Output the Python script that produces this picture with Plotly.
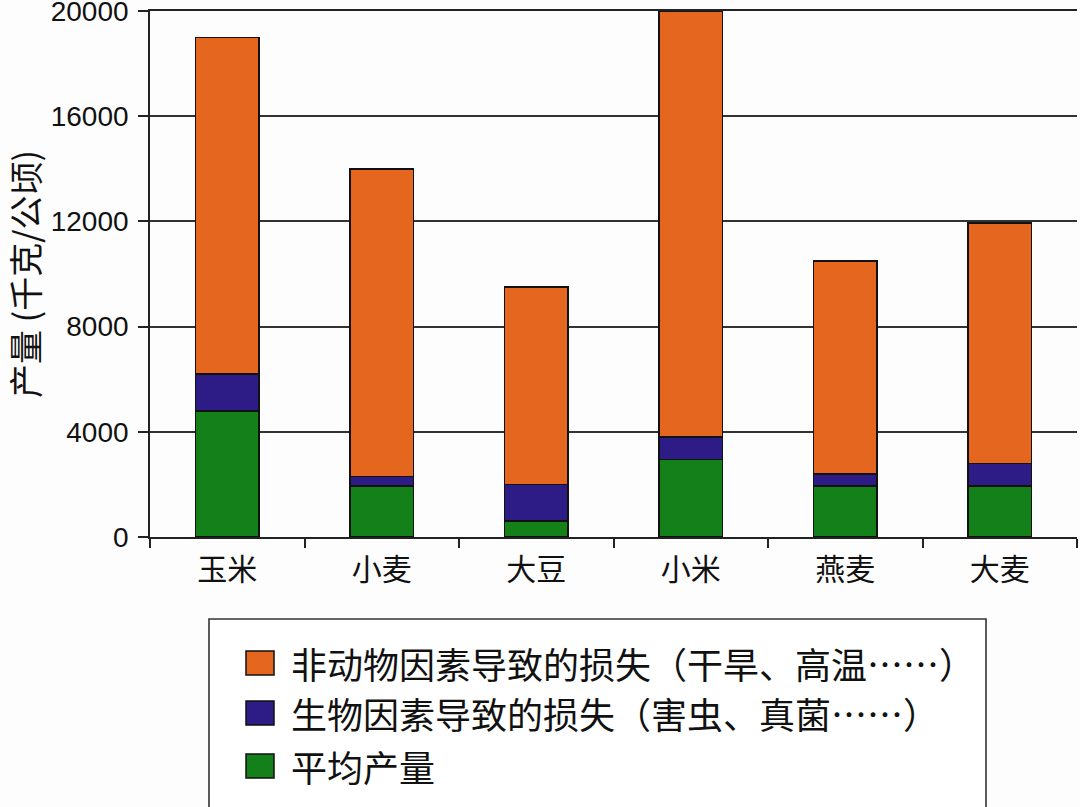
import plotly.graph_objects as go

categories = ["玉米", "小麦", "大豆", "小米", "燕麦", "大麦"]
avg_yield = [4800, 1950, 600, 2950, 1950, 1950]
biotic_loss = [1400, 350, 1400, 850, 450, 850]
abiotic_loss = [12800, 11700, 7500, 16200, 8100, 9150]

series_names = [
    "非动物因素导致的损失（干旱、高温……）",
    "生物因素导致的损失（害虫、真菌……）",
    "平均产量",
]
series_colors = ["#E5671F", "#2E1C86", "#148019"]

y_ticks = [0, 4000, 8000, 12000, 16000, 20000]
y_tick_text = ["0", "4000", "8000", "12000", "16000", "20000"]

W, H = 1080, 807
L, R, T, B = 150, 3, 11, 270
pw, ph = W - L - R, H - T - B


def px(x):
    return (x - L) / pw


def py(y):
    return (H - B - y) / ph


CJK = "Noto Sans CJK SC"
LAT = "Liberation Sans, Arial"

fig = go.Figure()
for vals, name, col in [
    (avg_yield, series_names[2], series_colors[2]),
    (biotic_loss, series_names[1], series_colors[1]),
    (abiotic_loss, series_names[0], series_colors[0]),
]:
    fig.add_trace(go.Bar(
        x=categories, y=vals, name=name,
        marker=dict(color=col, line=dict(color="#111111", width=1.6)),
        width=0.41, showlegend=False,
    ))

# manual legend (box, swatches, text)
shapes = [dict(type="rect", xref="paper", yref="paper",
               x0=px(209), x1=px(986), y0=py(619), y1=py(815),
               line=dict(color="#333333", width=1.6), fillcolor="white", layer="below")]
annotations = []
row_y = [663, 713, 766]
for name, col, yc in zip(series_names, series_colors, row_y):
    shapes.append(dict(type="rect", xref="paper", yref="paper",
                       x0=px(246), x1=px(274), y0=py(yc - 12), y1=py(yc + 12),
                       line=dict(color="#111111", width=1.5), fillcolor=col))
    annotations.append(dict(xref="paper", yref="paper", x=px(289), y=py(yc),
                            xanchor="left", yanchor="middle", showarrow=False,
                            text=name, font=dict(family=CJK, size=36, color="#111111")))

fig.update_layout(
    barmode="stack",
    width=W, height=H,
    margin=dict(l=L, r=R, t=T, b=B, pad=0, autoexpand=False),
    paper_bgcolor="#fdfdfd", plot_bgcolor="#fdfdfd",
    shapes=shapes, annotations=annotations,
    bargap=0.59,
)
fig.update_xaxes(
    type="category", tickson="boundaries", ticks="outside", ticklen=9,
    tickwidth=1.5, tickcolor="#222222", automargin=False,
    showline=True, linecolor="#222222", linewidth=1.6, showgrid=False, mirror=True,
    tickfont=dict(family=CJK, size=30, color="#111111"),
    ticklabelstandoff=5,
)
fig.update_yaxes(
    range=[0, 20000], tickvals=y_ticks, ticktext=y_tick_text, ticks="outside", ticklen=10,
    tickwidth=1.5, tickcolor="#222222", automargin=False,
    showline=True, linecolor="#222222", linewidth=1.6,
    showgrid=True, gridcolor="#333333", gridwidth=1.5,
    zeroline=False, ticklabelstandoff=4, ticklabeloverflow="allow",
    tickfont=dict(family=LAT, size=28, color="#111111"),
    title=dict(text="产量 (千克/公顷)", font=dict(family=CJK, size=34, color="#111111"), standoff=12),
)

fig.write_html("out.html", post_script="document.body.style.margin='0';",
               config={"displayModeBar": False})
